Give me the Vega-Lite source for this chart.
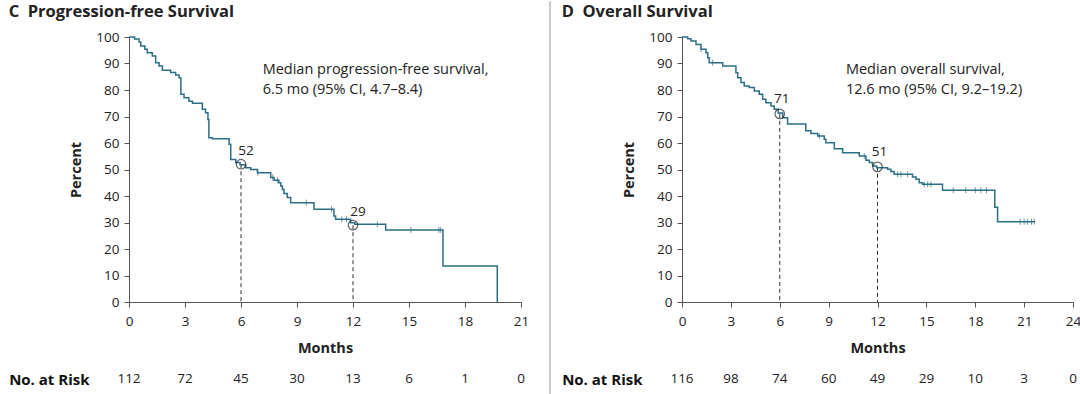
{
  "$schema": "https://vega.github.io/schema/vega-lite/v6.json",
  "padding": {"left": 8, "top": 0, "right": 0, "bottom": 0},
  "background": "white",
  "config": {
    "font": "Open Sans",
    "view": {"stroke": null},
    "axis": {"domainColor": "#555", "tickColor": "#555", "labelColor": "#222", "labelFontSize": 13.5, "titleFontSize": 14.5, "titleFontWeight": "bold", "titleColor": "#222", "grid": false, "tickSize": 5, "labelPadding": 5, "labelFlush": false},
    "title": {"anchor": "start", "fontSize": 16.5, "fontWeight": "bold", "color": "#222", "offset": 7, "dy": -3},
    "text": {"font": "Open Sans", "fontSize": 13.5, "color": "#222"}
  },
  "datasets": {
    "pfs": [
      {"t": 0, "s": 100}, {"t": 0.3, "s": 99.2}, {"t": 0.54, "s": 98.1}, {"t": 0.63, "s": 96.6}, {"t": 0.85, "s": 95.4}, {"t": 0.98, "s": 94.1}, {"t": 1.25, "s": 92.8}, {"t": 1.43, "s": 90.3}, {"t": 1.61, "s": 89.1}, {"t": 1.79, "s": 87.5}, {"t": 2.23, "s": 86.6}, {"t": 2.5, "s": 85.7}, {"t": 2.68, "s": 84.6}, {"t": 2.78, "s": 78.4}, {"t": 2.95, "s": 77.1}, {"t": 3.21, "s": 75.8}, {"t": 3.4, "s": 75}, {"t": 3.93, "s": 72.7}, {"t": 4.1, "s": 71.4}, {"t": 4.23, "s": 68.9}, {"t": 4.28, "s": 62}, {"t": 4.47, "s": 61.6}, {"t": 5.36, "s": 59.5}, {"t": 5.45, "s": 53.8}, {"t": 5.72, "s": 52.6}, {"t": 5.95, "s": 51.8}, {"t": 6.25, "s": 50.7}, {"t": 6.52, "s": 50}, {"t": 6.88, "s": 48.8}, {"t": 7.59, "s": 47}, {"t": 7.77, "s": 45.9}, {"t": 8.03, "s": 45}, {"t": 8.13, "s": 43.8}, {"t": 8.22, "s": 42.5}, {"t": 8.3, "s": 40.9}, {"t": 8.48, "s": 39.4}, {"t": 8.66, "s": 37.5}, {"t": 9.91, "s": 35}, {"t": 10.98, "s": 32.5}, {"t": 11.07, "s": 31.2}, {"t": 11.87, "s": 29.9}, {"t": 12.1, "s": 29.3}, {"t": 13.75, "s": 27.2}, {"t": 16.82, "s": 13.6}, {"t": 19.73, "s": 0}
    ],
    "pfsCens": [
      {"t": 6.9, "s": 48.8}, {"t": 7.7, "s": 47}, {"t": 7.95, "s": 45.9}, {"t": 9.5, "s": 37.5}, {"t": 10.85, "s": 35}, {"t": 11.4, "s": 31.2}, {"t": 11.65, "s": 31.2}, {"t": 13.3, "s": 29.3}, {"t": 15.1, "s": 27.2}, {"t": 16.6, "s": 27.2}, {"t": 16.7, "s": 27.2}
    ],
    "pfsMed": [{"t": 6, "s": 52, "label": "52"}, {"t": 12, "s": 29, "label": "29"}],
    "pfsNote": [{"t": 7.16, "s": 86.2, "label": "Median progression-free survival,\n6.5 mo (95% CI, 4.7–8.4)"}],
    "pfsRisk": [
      {"t": 0, "n": 112, "row": "No. at Risk"}, {"t": 3, "n": 72, "row": "No. at Risk"}, {"t": 6, "n": 45, "row": "No. at Risk"}, {"t": 9, "n": 30, "row": "No. at Risk"}, {"t": 12, "n": 13, "row": "No. at Risk"}, {"t": 15, "n": 6, "row": "No. at Risk"}, {"t": 18, "n": 1, "row": "No. at Risk"}, {"t": 21, "n": 0, "row": "No. at Risk"}
    ],
    "os": [
      {"t": 0, "s": 100}, {"t": 0.35, "s": 99.3}, {"t": 0.55, "s": 98.5}, {"t": 0.86, "s": 97.2}, {"t": 1.17, "s": 95.4}, {"t": 1.47, "s": 94.1}, {"t": 1.58, "s": 92.2}, {"t": 1.67, "s": 90.3}, {"t": 2.5, "s": 89.1}, {"t": 3.31, "s": 86.5}, {"t": 3.42, "s": 84.6}, {"t": 3.62, "s": 82.8}, {"t": 3.82, "s": 81.5}, {"t": 4.13, "s": 80.9}, {"t": 4.44, "s": 79.6}, {"t": 4.74, "s": 78.4}, {"t": 4.95, "s": 76.5}, {"t": 5.15, "s": 75.2}, {"t": 5.46, "s": 74}, {"t": 5.66, "s": 72.7}, {"t": 5.9, "s": 71.3}, {"t": 6.18, "s": 69.5}, {"t": 6.48, "s": 67.2}, {"t": 7.6, "s": 64.6}, {"t": 7.91, "s": 63.6}, {"t": 8.33, "s": 62.6}, {"t": 8.73, "s": 61.4}, {"t": 8.83, "s": 60.1}, {"t": 9.35, "s": 57.8}, {"t": 9.86, "s": 56.3}, {"t": 10.88, "s": 55.1}, {"t": 11.29, "s": 53.5}, {"t": 11.5, "s": 52.6}, {"t": 11.7, "s": 51.3}, {"t": 11.95, "s": 50.7}, {"t": 12.62, "s": 50.1}, {"t": 12.82, "s": 49.2}, {"t": 13.02, "s": 48.2}, {"t": 14.15, "s": 47.2}, {"t": 14.36, "s": 46.3}, {"t": 14.56, "s": 45}, {"t": 14.77, "s": 44.4}, {"t": 15.99, "s": 42.2}, {"t": 19.2, "s": 35.8}, {"t": 19.37, "s": 30.3}, {"t": 21.66, "s": 30.3}
    ],
    "osCens": [
      {"t": 1.17, "s": 95.4}, {"t": 1.88, "s": 90.3}, {"t": 8.43, "s": 62.6}, {"t": 11.19, "s": 55.1}, {"t": 13.23, "s": 48.2}, {"t": 13.44, "s": 48.2}, {"t": 13.85, "s": 48.2}, {"t": 14.87, "s": 44.4}, {"t": 15.08, "s": 44.4}, {"t": 15.28, "s": 44.4}, {"t": 16.65, "s": 42.2}, {"t": 17.42, "s": 42.2}, {"t": 18, "s": 42.2}, {"t": 18.34, "s": 42.2}, {"t": 18.69, "s": 42.2}, {"t": 20.76, "s": 30.3}, {"t": 21, "s": 30.3}, {"t": 21.2, "s": 30.3}, {"t": 21.45, "s": 30.3}, {"t": 21.62, "s": 30.3}
    ],
    "osMed": [{"t": 6, "s": 71, "label": "71"}, {"t": 12, "s": 51, "label": "51"}],
    "osNote": [{"t": 10.06, "s": 86.2, "label": "Median overall survival,\n12.6 mo (95% CI, 9.2–19.2)"}],
    "osRisk": [
      {"t": 0, "n": 116, "row": "No. at Risk"}, {"t": 3, "n": 98, "row": "No. at Risk"}, {"t": 6, "n": 74, "row": "No. at Risk"}, {"t": 9, "n": 60, "row": "No. at Risk"}, {"t": 12, "n": 49, "row": "No. at Risk"}, {"t": 15, "n": 29, "row": "No. at Risk"}, {"t": 18, "n": 10, "row": "No. at Risk"}, {"t": 21, "n": 3, "row": "No. at Risk"}, {"t": 24, "n": 0, "row": "No. at Risk"}
    ],
    "divider": [{"x": 11, "y": 0, "y2": 11}]
  },
  "spacing": 10,
  "hconcat": [
    {
      "title": {"text": "C\u00a0 Progression-free Survival"},
      "spacing": 16,
      "vconcat": [
        {
          "width": 392,
          "height": 265,
          "encoding": {
            "x": {"field": "t", "type": "quantitative", "scale": {"domain": [0, 21], "nice": false}, "axis": {"values": [0, 3, 6, 9, 12, 15, 18, 21], "title": "Months", "titlePadding": 14, "labelPadding": 7}},
            "y": {"field": "s", "type": "quantitative", "scale": {"domain": [0, 100], "nice": false}, "axis": {"values": [0, 10, 20, 30, 40, 50, 60, 70, 80, 90, 100], "title": "Percent", "titlePadding": 12}}
          },
          "layer": [
            {"data": {"name": "pfsMed"}, "mark": {"type": "rule", "color": "#333", "strokeDash": [4, 3], "strokeWidth": 1}, "encoding": {"y2": {"datum": 0}}},
            {"data": {"name": "pfs"}, "mark": {"type": "line", "interpolate": "step-after", "color": "#2b6e86", "strokeWidth": 1.5}},
            {"data": {"name": "pfsCens"}, "mark": {"type": "point", "shape": "M0,-1L0,1", "size": 36, "color": "#2b6e86", "filled": false, "strokeWidth": 1}},
            {"data": {"name": "pfsMed"}, "mark": {"type": "point", "shape": "circle", "size": 90, "color": "#222", "filled": false, "strokeWidth": 1.2}},
            {"data": {"name": "pfsMed"}, "mark": {"type": "text", "dx": 5, "dy": -13}, "encoding": {"text": {"field": "label"}}},
            {"data": {"name": "pfsNote"}, "mark": {"type": "text", "align": "left", "baseline": "alphabetic", "lineBreak": "\n", "lineHeight": 20, "fontSize": 14.5}, "encoding": {"text": {"field": "label"}}}
          ]
        },
        {
          "width": 392,
          "height": 16,
          "data": {"name": "pfsRisk"},
          "mark": {"type": "text", "fontSize": 13.5},
          "encoding": {
            "x": {"field": "t", "type": "quantitative", "scale": {"domain": [0, 21], "nice": false}, "axis": null},
            "y": {"field": "row", "type": "nominal", "axis": {"title": null, "ticks": false, "domain": false, "labelFontWeight": "bold", "labelFontSize": 15, "labelPadding": 40, "labelColor": "#111"}},
            "text": {"field": "n"}
          }
        }
      ]
    },
    {
      "width": 11,
      "height": 358,
      "data": {"name": "divider"},
      "mark": {"type": "rule", "color": "#999", "strokeWidth": 1, "clip": false},
      "encoding": {
        "x": {"field": "x", "type": "quantitative", "scale": {"domain": [0, 11]}, "axis": null},
        "y": {"field": "y", "type": "quantitative", "scale": {"domain": [0, 10]}, "axis": null},
        "y2": {"field": "y2"}
      }
    },
    {
      "title": {"text": "D\u00a0 Overall Survival"},
      "spacing": 16,
      "vconcat": [
        {
          "width": 391,
          "height": 265,
          "encoding": {
            "x": {"field": "t", "type": "quantitative", "scale": {"domain": [0, 24], "nice": false}, "axis": {"values": [0, 3, 6, 9, 12, 15, 18, 21, 24], "title": "Months", "titlePadding": 14, "labelPadding": 7}},
            "y": {"field": "s", "type": "quantitative", "scale": {"domain": [0, 100], "nice": false}, "axis": {"values": [0, 10, 20, 30, 40, 50, 60, 70, 80, 90, 100], "title": "Percent", "titlePadding": 12}}
          },
          "layer": [
            {"data": {"name": "osMed"}, "mark": {"type": "rule", "color": "#333", "strokeDash": [4, 3], "strokeWidth": 1}, "encoding": {"y2": {"datum": 0}}},
            {"data": {"name": "os"}, "mark": {"type": "line", "interpolate": "step-after", "color": "#2b6e86", "strokeWidth": 1.5}},
            {"data": {"name": "osCens"}, "mark": {"type": "point", "shape": "M0,-1L0,1", "size": 36, "color": "#2b6e86", "filled": false, "strokeWidth": 1}},
            {"data": {"name": "osMed"}, "mark": {"type": "point", "shape": "circle", "size": 90, "color": "#222", "filled": false, "strokeWidth": 1.2}},
            {"data": {"name": "osMed"}, "mark": {"type": "text", "dx": 2, "dy": -15}, "encoding": {"text": {"field": "label"}}},
            {"data": {"name": "osNote"}, "mark": {"type": "text", "align": "left", "baseline": "alphabetic", "lineBreak": "\n", "lineHeight": 20, "fontSize": 14.5}, "encoding": {"text": {"field": "label"}}}
          ]
        },
        {
          "width": 391,
          "height": 16,
          "data": {"name": "osRisk"},
          "mark": {"type": "text", "fontSize": 13.5},
          "encoding": {
            "x": {"field": "t", "type": "quantitative", "scale": {"domain": [0, 24], "nice": false}, "axis": null},
            "y": {"field": "row", "type": "nominal", "axis": {"title": null, "ticks": false, "domain": false, "labelFontWeight": "bold", "labelFontSize": 15, "labelPadding": 40, "labelColor": "#111"}},
            "text": {"field": "n"}
          }
        }
      ]
    }
  ]
}
